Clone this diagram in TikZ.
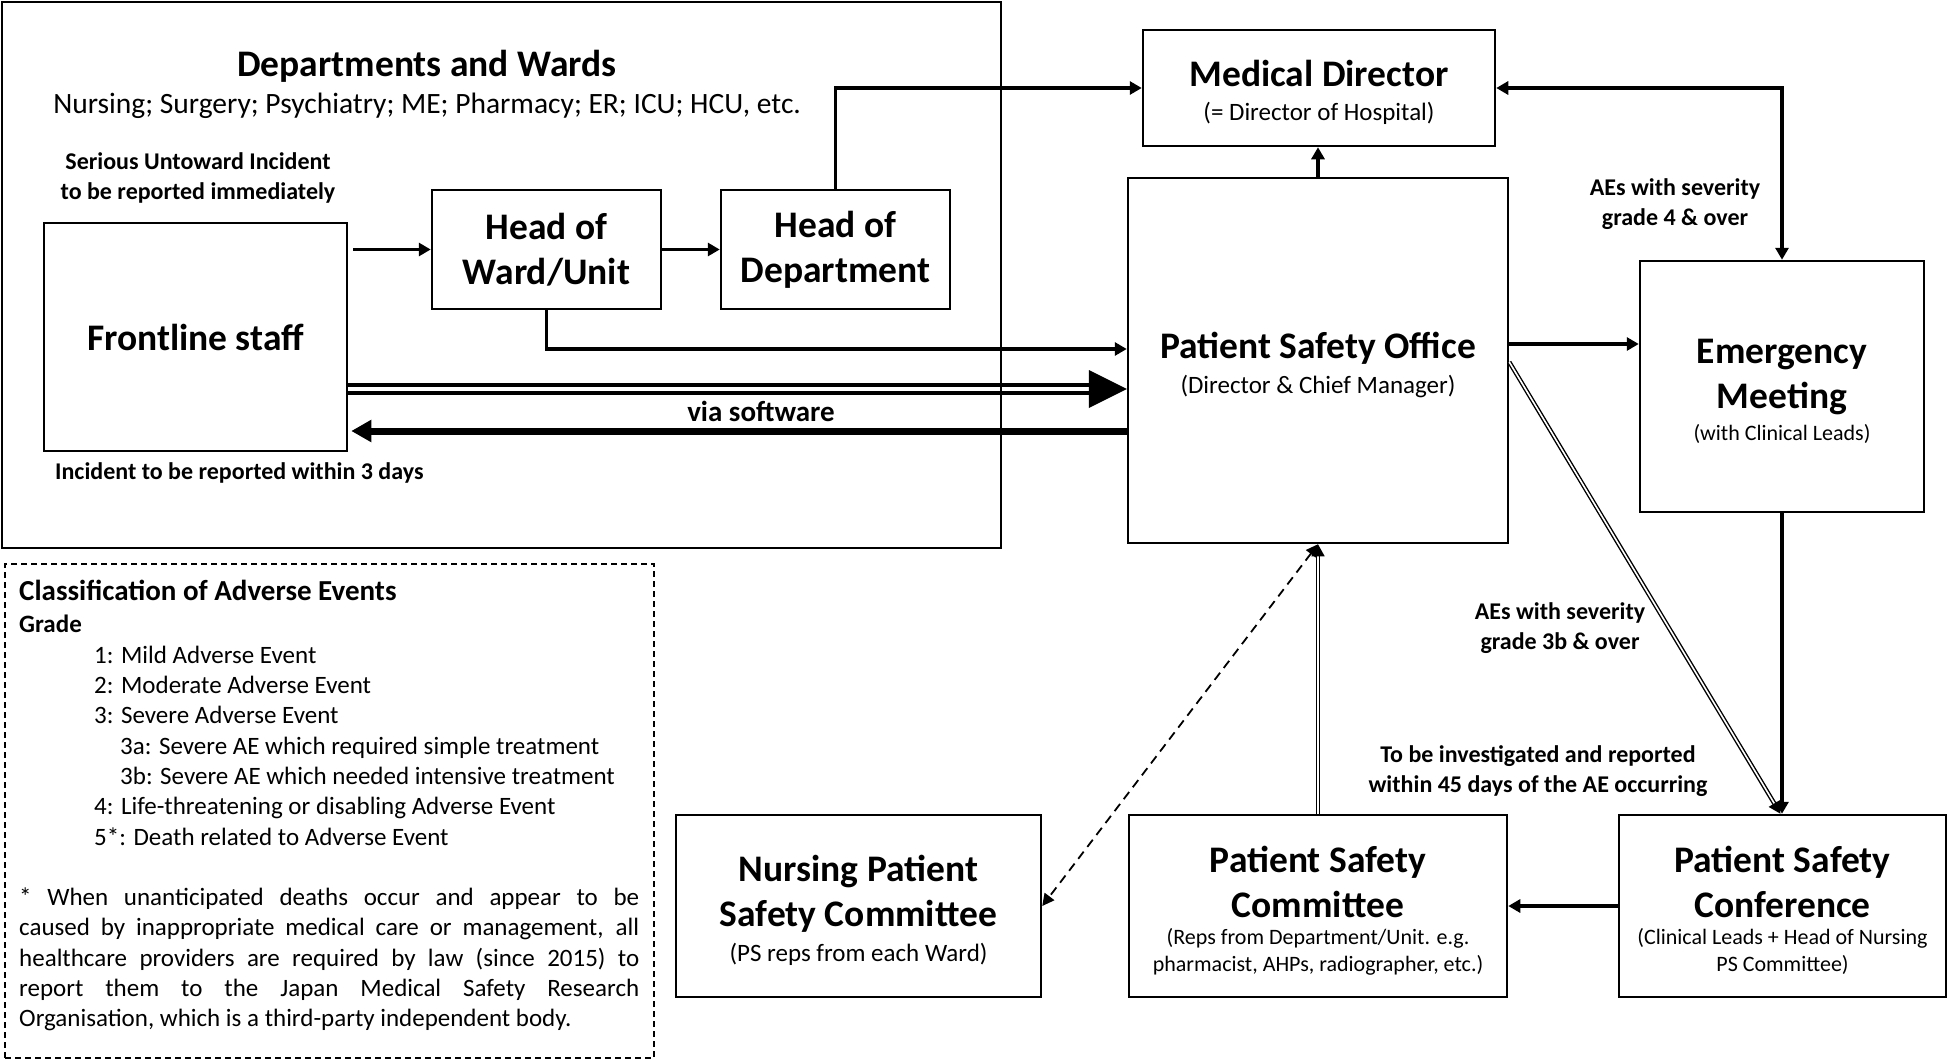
\documentclass[tikz,border=0pt]{standalone}
\usepackage{fontspec}
\setmainfont{Carlito}
\usetikzlibrary{arrows.meta}
\newcommand{\boxnote}[3]{\par\fontsize{#1}{#2}\selectfont\mdseries #3\par\kern-9pt}

\begin{document}
\begin{tikzpicture}[x=1pt,y=-1pt,
	box/.style={draw,line width=2.5pt,inner xsep=6pt,inner ysep=0pt,align=flush center,
		font=\fontsize{37.5}{45}\selectfont\bfseries},
	tag/.style={align=center,inner sep=0pt,font=\fontsize{24}{30.5}\selectfont\bfseries},
	arr/.style={line width=3.5pt,-{Triangle[length=12pt,width=13pt]}},
	dline/.style={double,double distance=1.6pt,line width=1.4pt,-{Triangle[length=12pt,width=13pt]}}]
	\useasboundingbox (0,0) rectangle (1952,1060);

	\node[draw,line width=2pt,minimum width=999,minimum height=546,inner sep=0] (dept) at (501.5,275) {};
	\node[font=\fontsize{37.5}{45}\selectfont\bfseries] (depttitle) at (427,66) {Departments and Wards};
	\node[font=\fontsize{29.5}{35}\selectfont] (deptlist) at (427,106)
		{Nursing; Surgery; Psychiatry; ME; Pharmacy; ER; ICU; HCU, etc.};

	\node[box,text width=291,minimum height=228] (fs) at (195.5,337) {Frontline staff};
	\node[box,text width=217,minimum height=119] (how) at (546.5,249.5) {Head of\\Ward/Unit};
	\node[box,text width=217,minimum height=119] (hod) at (835.5,249.5) {Head of\\Department};
	\node[box,text width=340,minimum height=116] (md) at (1319,88)
		{Medical Director\boxnote{25}{34.5}{(= Director of Hospital)}};
	\node[box,text width=368,minimum height=365] (pso) at (1318,360.5)
		{Patient Safety Office\boxnote{25}{34.5}{(Director \& Chief Manager)}};
	\node[box,text width=272,minimum height=251] (em) at (1782,386.5)
		{Emergency\\Meeting\boxnote{22}{32}{(with Clinical Leads)}};
	\node[box,text width=353,minimum height=182] (npsc) at (858.5,906)
		{Nursing Patient\\Safety Committee\boxnote{25}{35}{(PS reps from each Ward)}};
	\node[box,text width=366,minimum height=182] (psc) at (1318,906)
		{Patient Safety\\Committee\boxnote{22}{27}{(Reps from Department/Unit. e.g.\\pharmacist, AHPs, radiographer, etc.)}};
	\node[box,inner xsep=2pt,text width=323,minimum height=182] (conf) at (1782.5,906)
		{Patient Safety\\Conference\boxnote{22}{27}{(Clinical Leads + Head of Nursing\\PS Committee)}};

	\node[tag] (serious) at (198,178) {Serious Untoward Incident\\to be reported immediately};
	\node[tag,anchor=west] (within3) at (55,473) {Incident to be reported within 3 days};
	\node[tag,font=\fontsize{29}{35}\selectfont\bfseries] (software) at (761,411) {via software};
	\node[tag] (grade4) at (1675,204) {AEs with severity\\grade 4 \& over};
	\node[tag] (grade3b) at (1560,628) {AEs with severity\\grade 3b \& over};
	\node[tag] (days45) at (1538,771) {To be investigated and reported\\within 45 days of the AE occurring};

	\draw[arr,shorten <=5pt] (fs.east |- how.west) -- (how.west);
	\draw[arr] (how) -- (hod);
	\draw[arr] (hod.north) |- (md.west);
	\draw[arr] (how.south) |- ([yshift=11.5pt]pso.west);
	\draw[line width=3.5pt] (fs.east |- 0,385) -- ([xshift=-37pt,yshift=-24.5pt]pso.west);
	\draw[line width=3.5pt] (fs.east |- 0,393) -- ([xshift=-37pt,yshift=-32.5pt]pso.west);
	\fill ([yshift=-28.5pt]pso.west) -- ++(-38,-19) -- ++(0,38) -- cycle;
	\draw[line width=7pt,-{Triangle[length=20pt,width=21pt]},shorten >=3pt]
		([yshift=-70.5pt]pso.west) -- (fs.east |- 0,431);
	\draw[arr] (pso.north) -- (pso.north |- md.south);
	\draw[arr,{Triangle[length=12pt,width=13pt]}-{Triangle[length=12pt,width=13pt]}] (md.east) -| (em.north);
	\draw[arr] ([yshift=16.5pt]pso.east) -- (em.west |- 0,344);
	\draw[dline] ([yshift=-1.5pt]pso.east) -- ([xshift=-2pt]conf.north);
	\draw[arr] (em.south) -- (em.south |- conf.north);
	\draw[arr] (conf.west) -- (psc.east);
	\draw[dline] (psc.north) -- (psc.north |- pso.south);
	\draw[line width=1.8pt,dash pattern=on 9pt off 6pt,
		{Triangle[length=12pt,width=12pt]}-{Triangle[length=12pt,width=12pt]}] (pso.south) -- (npsc.east);

	\node[draw,line width=1.5pt,dash pattern=on 6pt off 4pt,minimum width=649,minimum height=494,inner sep=0]
		(legend) at (329.5,811) {};
	\node[anchor=north west,inner sep=0,align=left,font=\fontsize{25}{30.3}\selectfont] (grades) at (19,580) {
		{\fontsize{29}{32}\selectfont\bfseries Classification of Adverse Events}\\[2pt]
		\textbf{Grade}\\
		\hspace*{75pt}1: Mild Adverse Event\\
		\hspace*{75pt}2: Moderate Adverse Event\\
		\hspace*{75pt}3: Severe Adverse Event\\
		\hspace*{101pt}3a: Severe AE which required simple treatment\\
		\hspace*{101pt}3b: Severe AE which needed intensive treatment\\
		\hspace*{75pt}4: Life-threatening or disabling Adverse Event\\
		\hspace*{75pt}5*: Death related to Adverse Event\\[30.3pt]
		\makebox[620pt][s]{* When unanticipated deaths occur and appear to be}\\
		\makebox[620pt][s]{caused by inappropriate medical care or management, all}\\
		\makebox[620pt][s]{healthcare providers are required by law (since 2015) to}\\
		\makebox[620pt][s]{report them to the Japan Medical Safety Research}\\
		Organisation, which is a third-party independent body.};
\end{tikzpicture}
\end{document}
